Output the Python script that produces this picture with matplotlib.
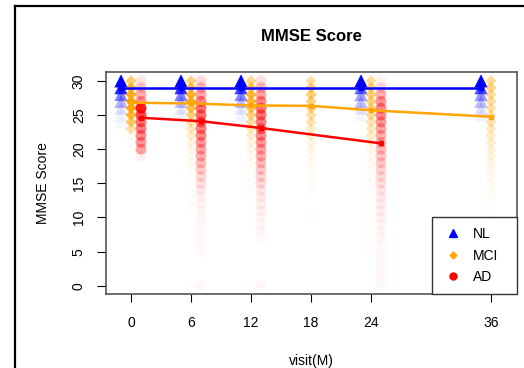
import numpy as np
import matplotlib
matplotlib.use("Agg")
from matplotlib import pyplot as plt
from matplotlib.lines import Line2D

plt.rcParams['font.family'] = ['Liberation Sans', 'DejaVu Sans']

## DATA
# visits (months) per group, and mean MMSE score per visit
nl_visits = [0, 6, 12, 24, 36]
mci_visits = [0, 6, 12, 18, 24, 36]
ad_visits = [0, 6, 12, 24]

nl_mean = [29.0, 29.0, 29.0, 29.0, 29.0]
mci_mean = [26.8, 26.7, 26.4, 26.35, 25.7, 24.75]
ad_mean = [24.6, 24.1, 23.1, 20.85]

# shading of the score points, listed from score 30 downwards
nl_shade = [
    [1.0, 0.85, 0.5, 0.3, 0.12, 0.05, 0.03],
    [1.0, 0.8, 0.5, 0.25, 0.1, 0.05],
    [1.0, 0.75, 0.45, 0.25, 0.1, 0.05],
    [1.0, 0.6, 0.35, 0.25, 0.1, 0.04],
    [1.0, 0.7, 0.4, 0.25, 0.12, 0.05],
]
mci_shade = [
    [0.55, 0.8, 0.9, 1.0, 0.95, 0.8, 0.6, 0.35, 0.05],
    [0.5, 0.7, 0.85, 0.85, 0.7, 0.5, 0.35, 0.25, 0.2, 0.12, 0.08, 0.05, 0.04,
     0.03, 0.02, 0.02, 0.02, 0.02, 0.02, 0.02, 0.0, 0.0, 0.0, 0.0, 0.0, 0.0,
     0.0, 0.0, 0.0, 0.0, 0.03],
    [0.45, 0.65, 0.8, 0.8, 0.65, 0.5, 0.35, 0.25, 0.18, 0.12, 0.08, 0.05, 0.04,
     0.03, 0.02, 0.02, 0.02, 0.02, 0.0, 0.0, 0.0, 0.0, 0.0, 0.0, 0.0, 0.0,
     0.0, 0.0, 0.0, 0.0, 0.03],
    [0.35, 0.5, 0.55, 0.5, 0.45, 0.35, 0.3, 0.2, 0.15, 0.12, 0.08, 0.06, 0.05,
     0.04, 0.03, 0.02, 0.02, 0.0, 0.0, 0.0, 0.02],
    [0.4, 0.55, 0.55, 0.5, 0.45, 0.4, 0.3, 0.25, 0.2, 0.12, 0.08, 0.06, 0.05,
     0.04, 0.03, 0.03, 0.02, 0.02, 0.02, 0.02, 0.02, 0.02, 0.02, 0.02, 0.02,
     0.02],
    [0.4, 0.45, 0.4, 0.35, 0.35, 0.3, 0.3, 0.25, 0.2, 0.18, 0.15, 0.12, 0.1,
     0.08, 0.06, 0.05, 0.04, 0.03, 0.02, 0.02, 0.02, 0.02, 0.02, 0.02],
]
ad_shade = [
    [0.1, 0.2, 0.3, 0.4, 0.9, 0.7, 0.55, 0.5, 0.45, 0.4, 0.35, 0.05],
    [0.15, 0.25, 0.35, 0.45, 0.55, 0.55, 0.55, 0.5, 0.45, 0.4, 0.35, 0.3, 0.25,
     0.2, 0.15, 0.12, 0.08, 0.05, 0.04, 0.03, 0.03, 0.02, 0.02, 0.02, 0.02,
     0.02, 0.0, 0.0, 0.0, 0.0, 0.03],
    [0.12, 0.25, 0.35, 0.45, 0.55, 0.55, 0.5, 0.5, 0.45, 0.4, 0.35, 0.3, 0.25,
     0.2, 0.17, 0.14, 0.1, 0.08, 0.06, 0.05, 0.04, 0.03, 0.03, 0.02, 0.0,
     0.0, 0.0, 0.0, 0.0, 0.0, 0.03],
    [0.05, 0.15, 0.3, 0.4, 0.45, 0.45, 0.4, 0.35, 0.3, 0.28, 0.25, 0.22, 0.2,
     0.17, 0.14, 0.12, 0.1, 0.08, 0.07, 0.06, 0.05, 0.04, 0.03, 0.03, 0.02,
     0.02, 0.02, 0.02, 0.02, 0.02, 0.02],
]

groups = [
    ('NL', nl_visits, nl_mean, nl_shade, -1, (0, 0, 1), '^', 90),
    ('MCI', mci_visits, mci_mean, mci_shade, 0, (1, 0.647, 0), 'D', 32),
    ('AD', ad_visits, ad_mean, ad_shade, 1, (1, 0, 0), 'o', 62),
]

## PLOT
fig = plt.figure(figsize=(5.24, 3.68), dpi=100)
ax = fig.add_axes([106 / 524, 1 - 294 / 368, 411 / 524, 222 / 368])

for name, visits, means, shade, off, col, mk, sz in groups:
    for v, sh in zip(visits, shade):
        scores = np.arange(30, 30 - len(sh), -1)
        cols = [(col[0], col[1], col[2], a) for a in sh]
        ax.scatter(np.full(len(sh), v + off), scores, s=sz, marker=mk,
                   c=cols, linewidths=0, zorder=2)

for name, visits, means, shade, off, col, mk, sz in groups:
    ax.plot(np.array(visits) + off, means, color=col, lw=1.8, marker='s',
            ms=3, zorder=3)

ax.set_xlim(-2.5, 38.6)
ax.set_ylim(-1.2, 31.3)
ax.set_xticks([0, 6, 12, 18, 24, 36])
ax.set_yticks([0, 5, 10, 15, 20, 25, 30])
ax.tick_params(axis='x', length=6, pad=10, labelsize=10, color='k')
ax.tick_params(axis='y', length=6.5, pad=8, labelsize=10, color='k')
for lab in ax.get_yticklabels():
    lab.set_rotation(90)
    lab.set_va('center')
for sp in ax.spines.values():
    sp.set_color('#555555')
    sp.set_linewidth(1.2)

ax.set_title('MMSE Score', fontsize=12, fontweight='bold', pad=22)
ax.set_xlabel('visit(M)', fontsize=10, labelpad=17)
ax.set_ylabel('MMSE Score', fontsize=10, labelpad=15.5)

handles = [Line2D([], [], ls='none', marker='^', ms=6, color='blue'),
           Line2D([], [], ls='none', marker='D', ms=3.5, color='orange'),
           Line2D([], [], ls='none', marker='o', ms=5, color='red')]
leg_w = 85 / 411
leg = ax.legend(handles, ['NL', 'MCI', 'AD'], loc='lower right',
                bbox_to_anchor=(1 - leg_w, 0, leg_w, 0.3), mode='expand',
                borderaxespad=0, fancybox=False,
                edgecolor='#333333', framealpha=1, fontsize=10,
                borderpad=0.7, handlelength=1.6, handletextpad=0.65,
                labelspacing=0.55)
leg.get_frame().set_linewidth(1.0)
leg.set_zorder(5)

# outer frame of the picture
fig.add_artist(Line2D([15 / 524, 15 / 524], [0, 1 - 6 / 368], color='k', lw=1.6))
fig.add_artist(Line2D([15 / 524, 1], [1 - 6 / 368, 1 - 6 / 368], color='k', lw=1.6))

plt.savefig('out.png', dpi=100)
